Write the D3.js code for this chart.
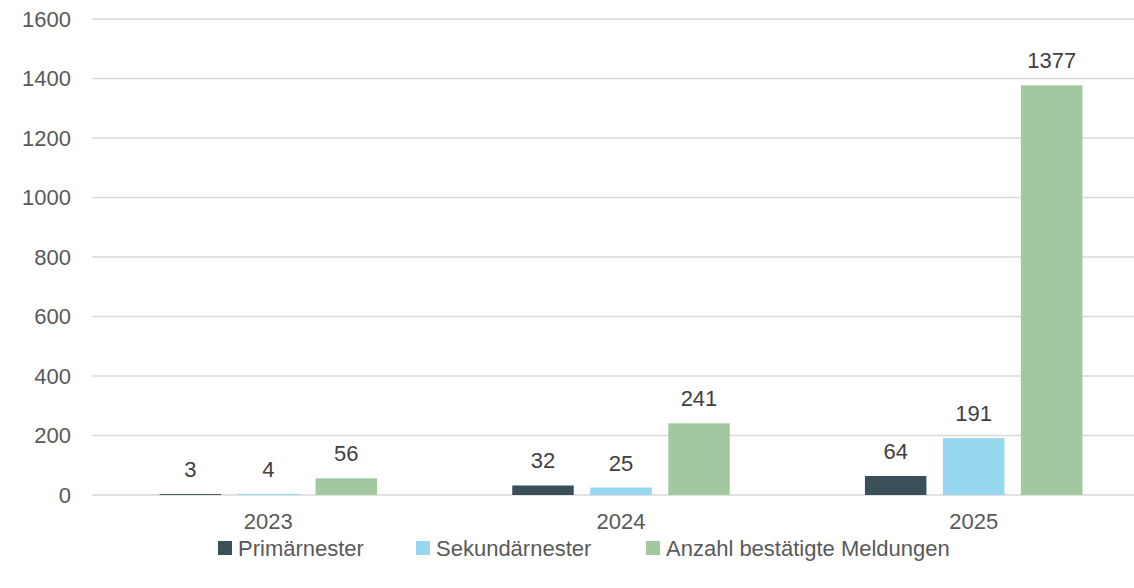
<!DOCTYPE html>
<html>
<head>
<meta charset="utf-8">
<script src="https://cdn.jsdelivr.net/npm/d3@7"></script>
<style>
  body { margin: 0; background: #fff; }
  text { font-family: "Liberation Sans", Arial, sans-serif; }
</style>
</head>
<body>
<svg id="chart" width="1134" height="588"></svg>
<script>
// data
var years = ["2023", "2024", "2025"]
var keys = ["Primärnester", "Sekundärnester", "Anzahl bestätigte Meldungen"]
var primaer = [3, 32, 64]
var sekundaer = [4, 25, 191]
var meldungen = [56, 241, 1377]
var yTicks = [0, 200, 400, 600, 800, 1000, 1200, 1400, 1600]

var colours = ["#3b4f59", "#97d7ef", "#a2c8a0"]
var series = [primaer, sekundaer, meldungen]

var svg = d3.select("#chart")

// plot area (right side runs past the page edge, as in the reference)
var plotLeft = 92, plotRight = 1150, plotTop = 19, plotBottom = 495

var x0 = d3.scaleBand().domain(years).range([plotLeft, plotRight])
var x1 = d3.scaleBand().domain(keys).range([0, 217.5]).paddingInner(0.2115)
var y = d3.scaleLinear().domain([0, 1600]).range([plotBottom, plotTop])
var colour = d3.scaleOrdinal().domain(keys).range(colours)

// grid lines
svg.append("g")
  .selectAll("line")
  .data(yTicks)
  .enter()
  .append("line")
    .attr("x1", plotLeft)
    .attr("x2", plotRight)
    .attr("y1", function(d) { return y(d) })
    .attr("y2", function(d) { return y(d) })
    .attr("stroke", "#d9d9d9")
    .attr("stroke-width", 1.5)

// y axis labels
var yAxis = svg.append("g")
  .attr("transform", "translate(" + plotLeft + ",0)")
  .call(d3.axisLeft(y).tickValues(yTicks).tickFormat(d3.format("d")).tickSize(0).tickPadding(21))
yAxis.select(".domain").remove()
yAxis.selectAll("text")
  .style("font-size", "22px")
  .style("fill", "#595959")
  .style("font-family", "Liberation Sans, Arial, sans-serif")

// x axis labels
var xAxis = svg.append("g")
  .attr("transform", "translate(0," + plotBottom + ")")
  .call(d3.axisBottom(x0).tickSize(0).tickPadding(18))
xAxis.select(".domain").remove()
xAxis.selectAll("text")
  .style("font-size", "22px")
  .style("fill", "#595959")
  .style("font-family", "Liberation Sans, Arial, sans-serif")

// bars
var rows = years.map(function(yr, i) {
  return { year: yr, values: keys.map(function(k, j) { return { key: k, value: series[j][i] } }) }
})

var groups = svg.append("g")
  .selectAll("g")
  .data(rows)
  .enter()
  .append("g")
    .attr("transform", function(d) { return "translate(" + (x0(d.year) + x0.bandwidth() / 2 - 108.75) + ",0)" })

groups.selectAll("rect")
  .data(function(d) { return d.values })
  .enter()
  .append("rect")
    .attr("x", function(d) { return x1(d.key) })
    .attr("y", function(d) { return y(d.value) })
    .attr("width", x1.bandwidth())
    .attr("height", function(d) { return plotBottom - y(d.value) })
    .attr("fill", function(d) { return colour(d.key) })

groups.selectAll(".lbl")
  .data(function(d) { return d.values })
  .enter()
  .append("text")
    .attr("class", "lbl")
    .attr("x", function(d) { return x1(d.key) + x1.bandwidth() / 2 })
    .attr("y", function(d) { return y(d.value) - 17 })
    .attr("text-anchor", "middle")
    .style("font-size", "22px")
    .style("fill", "#404040")
    .text(function(d) { return d.value })

// legend
var legendX = [218, 416, 646]
var legend = svg.append("g")
legend.selectAll("rect")
  .data(keys)
  .enter()
  .append("rect")
    .attr("x", function(d, i) { return legendX[i] })
    .attr("y", 541)
    .attr("width", 14)
    .attr("height", 14)
    .attr("fill", function(d) { return colour(d) })
legend.selectAll("text")
  .data(keys)
  .enter()
  .append("text")
    .attr("x", function(d, i) { return legendX[i] + 20 })
    .attr("y", 556)
    .style("font-size", "22px")
    .style("fill", "#595959")
    .text(function(d) { return d })
</script>
</body>
</html>
